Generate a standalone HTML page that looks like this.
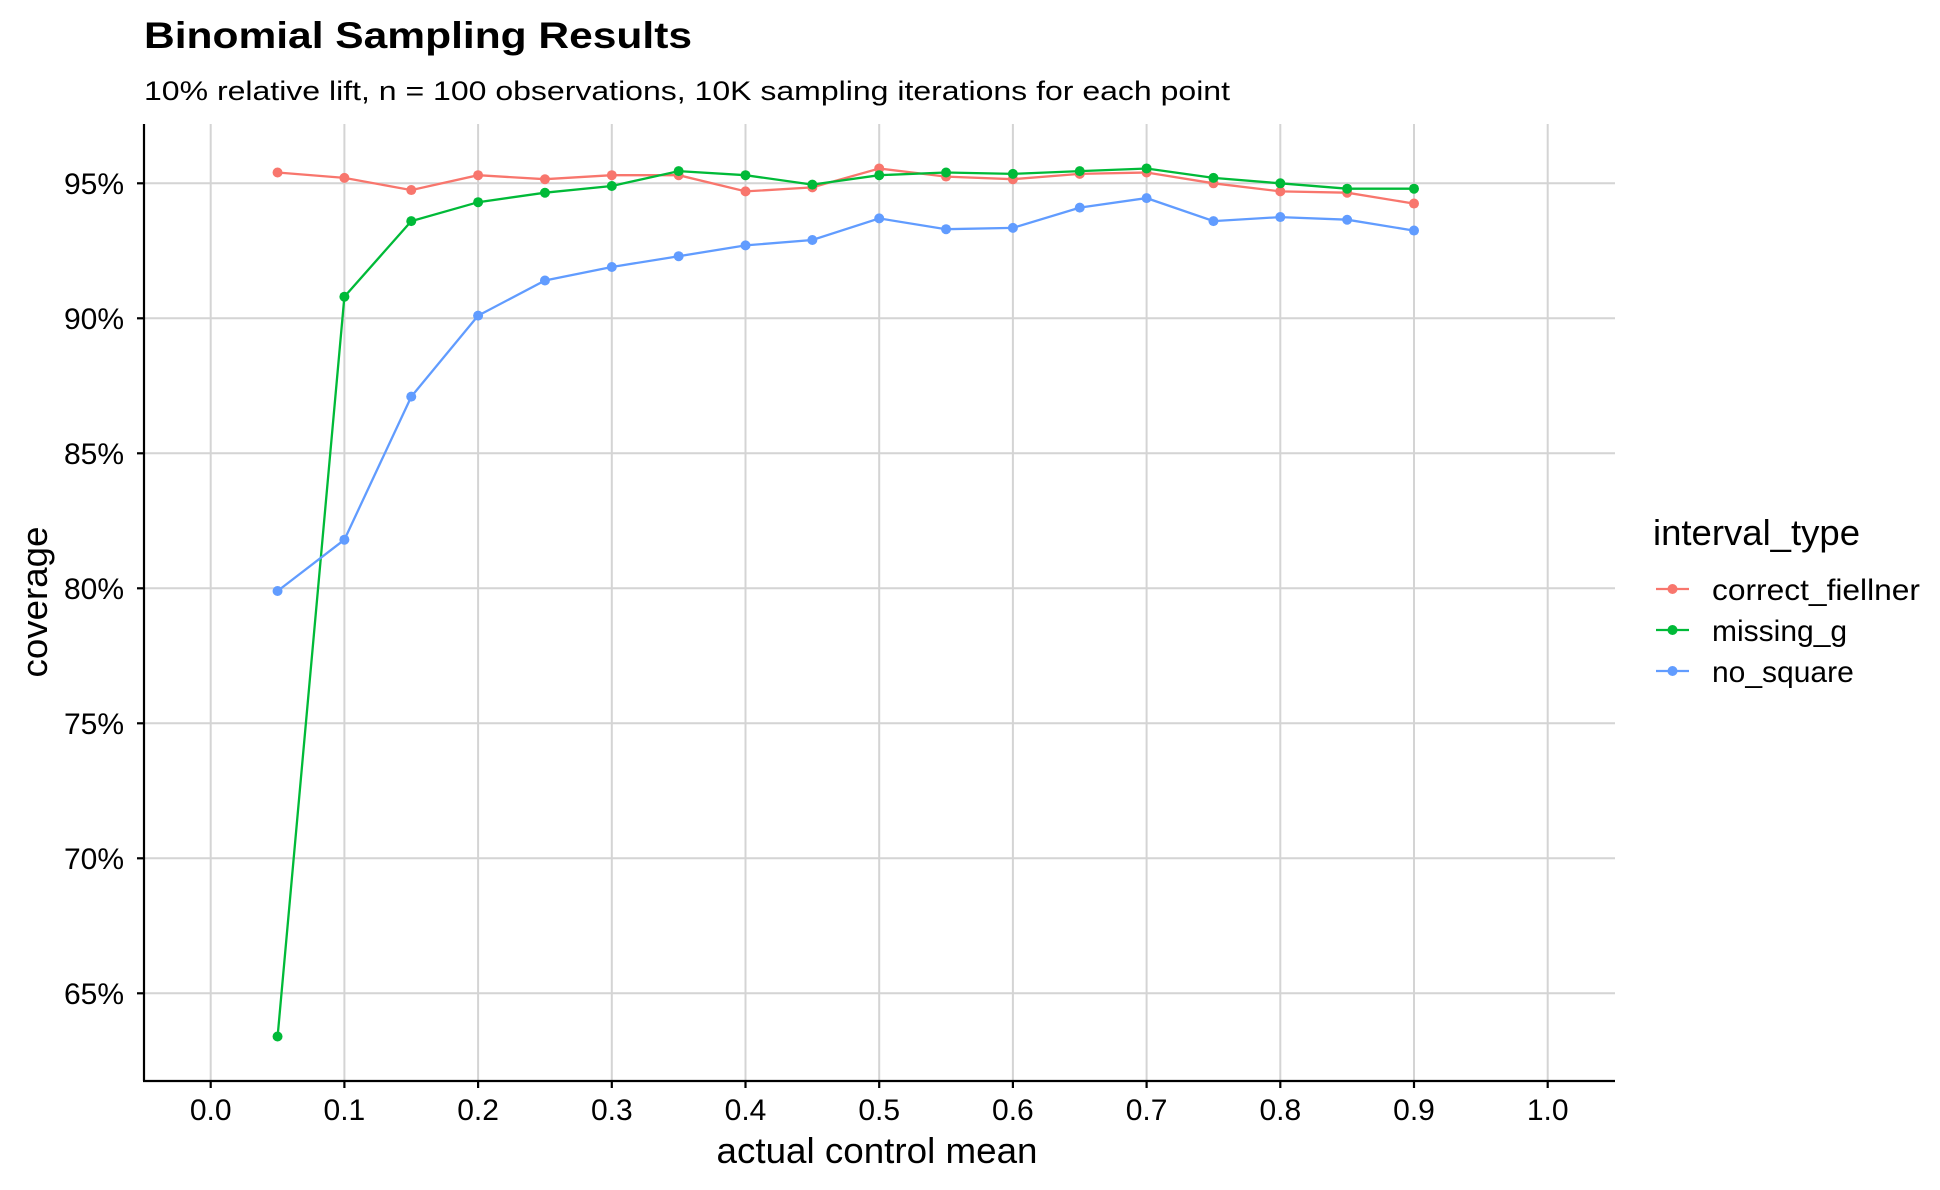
<!DOCTYPE html>
<html><head><meta charset="utf-8"><style>
html,body{margin:0;padding:0;background:#fff;}
svg{display:block;font-family:"Liberation Sans",Arial,sans-serif;}
</style></head><body>
<svg id="s" width="1940" height="1190" viewBox="0 0 1940 1190" xmlns="http://www.w3.org/2000/svg">
<rect width="1940" height="1190" fill="#fff"/>
<g id="grid" stroke="#d4d4d4" stroke-width="2"></g>
<g id="series"></g>
<line x1="144" y1="124" x2="144" y2="1081" stroke="#000" stroke-width="2.2"/>
<line x1="143" y1="1081" x2="1615" y2="1081" stroke="#000" stroke-width="2.2"/>
<g id="ticks" stroke="#000" stroke-width="2.2"></g>
<g font-size="30" fill="#000" text-anchor="end">
<text x="124" y="194">95%</text>
<text x="124" y="329">90%</text>
<text x="124" y="464">85%</text>
<text x="124" y="599">80%</text>
<text x="124" y="734">75%</text>
<text x="124" y="869">70%</text>
<text x="124" y="1004">65%</text>
</g>
<g font-size="30" fill="#000" text-anchor="middle">
<text x="210.7" y="1120">0.0</text>
<text x="344.4" y="1120">0.1</text>
<text x="478.1" y="1120">0.2</text>
<text x="611.8" y="1120">0.3</text>
<text x="745.5" y="1120">0.4</text>
<text x="879.2" y="1120">0.5</text>
<text x="1012.9" y="1120">0.6</text>
<text x="1146.6" y="1120">0.7</text>
<text x="1280.3" y="1120">0.8</text>
<text x="1414" y="1120">0.9</text>
<text x="1547.7" y="1120">1.0</text>
</g>
<text x="877" y="1163" font-size="36" text-anchor="middle" textLength="321" lengthAdjust="spacingAndGlyphs">actual control mean</text>
<text transform="translate(47,602) rotate(-90)" font-size="36" text-anchor="middle" textLength="151" lengthAdjust="spacingAndGlyphs">coverage</text>
<text x="144" y="48" font-size="37" font-weight="bold" textLength="548" lengthAdjust="spacingAndGlyphs">Binomial Sampling Results</text>
<text x="144" y="100" font-size="27" textLength="1086" lengthAdjust="spacingAndGlyphs">10% relative lift, n = 100 observations, 10K sampling iterations for each point</text>
<text x="1653" y="545" font-size="36" textLength="207" lengthAdjust="spacingAndGlyphs">interval_type</text>
<g stroke-width="2.3">
<line x1="1656" y1="589" x2="1689" y2="589" stroke="#F8766D"/><circle cx="1672.5" cy="589" r="5" fill="#F8766D"/>
<line x1="1656" y1="630" x2="1689" y2="630" stroke="#00BA38"/><circle cx="1672.5" cy="630" r="5" fill="#00BA38"/>
<line x1="1656" y1="671" x2="1689" y2="671" stroke="#619CFF"/><circle cx="1672.5" cy="671" r="5" fill="#619CFF"/>
</g>
<g font-size="30">
<text x="1712" y="600" textLength="208" lengthAdjust="spacingAndGlyphs">correct_fiellner</text>
<text x="1712" y="641">missing_g</text>
<text x="1712" y="682">no_square</text>
</g>
</svg>
<script>
var NS="http://www.w3.org/2000/svg";
function X(v){return 210.7+1337*v;}
function Y(p){return 183.3+(95-p)*27;}
function el(t,a,p){var e=document.createElementNS(NS,t);for(var k in a)e.setAttribute(k,a[k]);p.appendChild(e);return e;}
var g=document.getElementById('grid'),tk=document.getElementById('ticks');
for(var i=0;i<=10;i++){var x=X(i/10);el('line',{x1:x,y1:124,x2:x,y2:1080},g);el('line',{x1:x,y1:1081,x2:x,y2:1088},tk);}
for(var p=65;p<=95;p+=5){var y=Y(p);el('line',{x1:145,y1:y,x2:1615,y2:y},g);el('line',{x1:137,y1:y,x2:144,y2:y},tk);}
var data=[
["#F8766D",[95.4,95.2,94.75,95.3,95.15,95.3,95.3,94.7,94.85,95.55,95.25,95.15,95.35,95.4,95.0,94.7,94.65,94.25]],
["#00BA38",[63.4,90.8,93.6,94.3,94.65,94.9,95.45,95.3,94.95,95.3,95.4,95.35,95.45,95.55,95.2,95.0,94.8,94.8]],
["#619CFF",[79.9,81.8,87.1,90.1,91.4,91.9,92.3,92.7,92.9,93.7,93.3,93.35,94.1,94.45,93.6,93.75,93.65,93.25]]];
var s=document.getElementById('series');
data.forEach(function(d){var pts=d[1].map(function(v,i){return X(0.05*(i+1)).toFixed(1)+","+Y(v).toFixed(1);});
el('polyline',{points:pts.join(" "),fill:"none",stroke:d[0],"stroke-width":2.3},s);});
data.forEach(function(d){d[1].forEach(function(v,i){el('circle',{cx:X(0.05*(i+1)),cy:Y(v),r:5,fill:d[0]},s);});});
</script>
</body></html>
